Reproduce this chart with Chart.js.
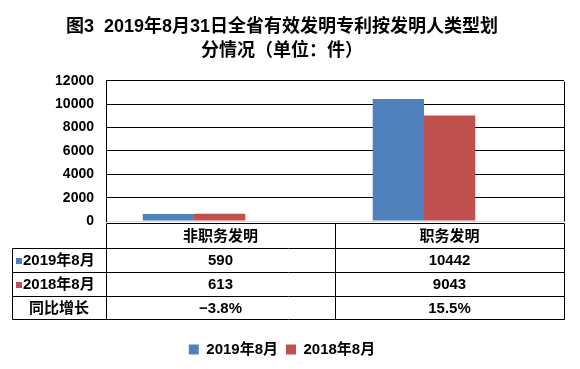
<!DOCTYPE html>
<html>
<head>
<meta charset="utf-8">
<script src="https://cdn.jsdelivr.net/npm/chart.js@4/dist/chart.umd.min.js"></script>
<style>
  html, body { margin: 0; padding: 0; background: #fff; }
  #wrap { width: 580px; height: 369px; }
</style>
</head>
<body>
<div id="wrap"><canvas id="myChart" width="580" height="369"></canvas></div>
<script>
const categories = ['非职务发明', '职务发明'];
const seriesNames = ['2019年8月', '2018年8月'];
const values2019 = [590, 10442];
const values2018 = [613, 9043];
const growthLabels = ['−3.8%', '15.5%'];
const yTicks = [0, 2000, 4000, 6000, 8000, 10000, 12000];

const FONT = "'Liberation Sans', 'Noto Sans CJK SC', sans-serif";
const BLUE = '#4F81BD';
const RED = '#C0504D';

// draws the data table under the plot and the box edges
const dataTable = {
  id: 'dataTable',
  afterDraw(chart) {
    const ctx = chart.ctx;
    const area = chart.chartArea;
    const top = area.bottom + 2;
    const rowH = [25, 24, 24, 23];
    const rows = [top];
    rowH.forEach(h => rows.push(rows[rows.length - 1] + h));
    const labelLeft = 12;
    const colW = (area.right - area.left) / categories.length;
    const mid = area.left + colW;

    ctx.save();
    ctx.strokeStyle = '#000';
    ctx.lineWidth = 1;
    const line = (x1, y1, x2, y2) => {
      ctx.beginPath();
      ctx.moveTo(Math.round(x1) + 0.5, Math.round(y1) + 0.5);
      ctx.lineTo(Math.round(x2) + 0.5, Math.round(y2) + 0.5);
      ctx.stroke();
    };
    // plot right edge
    line(area.right, area.top, area.right, area.bottom);
    // table lines
    line(area.left, rows[0], area.right, rows[0]);
    for (let i = 1; i < rows.length; i++) line(labelLeft, rows[i], area.right, rows[i]);
    line(area.left, rows[0], area.left, rows[4]);
    line(mid, rows[0], mid, rows[4]);
    line(area.right, rows[0], area.right, rows[4]);
    line(labelLeft, rows[1], labelLeft, rows[4]);

    ctx.fillStyle = '#000';
    ctx.font = 'bold 15px ' + FONT;
    ctx.textBaseline = 'middle';
    ctx.textAlign = 'center';
    const cy = i => (rows[i] + rows[i + 1]) / 2 + 1;
    categories.forEach((c, i) => {
      const cx = area.left + colW * (i + 0.5);
      ctx.fillText(c, cx, cy(0));
      ctx.fillText(String(values2019[i]), cx, cy(1));
      ctx.fillText(String(values2018[i]), cx, cy(2));
      ctx.fillText(growthLabels[i], cx, cy(3));
    });
    // row labels
    ctx.fillText('同比增长', (labelLeft + area.left) / 2, cy(3));
    ctx.textAlign = 'left';
    [BLUE, RED].forEach((col, i) => {
      ctx.fillStyle = col;
      ctx.fillRect(16, Math.round(cy(i + 1)) - 3, 6, 6);
      ctx.fillStyle = '#000';
      ctx.fillText(seriesNames[i], 23, cy(i + 1));
    });
    ctx.restore();
  }
};

const toPoints = arr => arr.map((v, i) => ({ x: i, y: v }));

const data = {
  datasets: [
    { label: seriesNames[0], data: toPoints(values2019), backgroundColor: BLUE },
    { label: seriesNames[1], data: toPoints(values2018), backgroundColor: RED }
  ]
};

const config = {
  type: 'bar',
  data: data,
  options: {
    responsive: false,
    animation: false,
    datasets: {
      bar: { categoryPercentage: 0.446, barPercentage: 1 }
    },
    layout: { padding: { left: 0, right: 16, top: 0, bottom: 2 } },
    plugins: {
      title: {
        display: true,
        text: ['图3  2019年8月31日全省有效发明专利按发明人类型划', '分情况（单位：件）'],
        color: '#000',
        font: { family: FONT, size: 18, weight: 'bold', lineHeight: 1.33 },
        padding: { top: 15, bottom: 18 }
      },
      legend: {
        position: 'bottom',
        labels: {
          boxWidth: 10,
          boxHeight: 10,
          color: '#000',
          padding: 8,
          font: { family: FONT, size: 15, weight: 'bold' }
        }
      },
      tooltip: { enabled: false }
    },
    scales: {
      x: {
        type: 'linear',
        offset: false,
        min: -0.383,
        max: 1.609,
        afterBuildTicks(scale) { scale.ticks = categories.map((c, i) => ({ value: i })); },
        grid: { display: false },
        border: { display: false },
        ticks: { display: false },
        afterFit(scale) { scale.height = 113; }
      },
      y: {
        min: 0,
        max: 12000,
        afterBuildTicks(scale) { scale.ticks = yTicks.map(v => ({ value: v })); },
        afterFit(scale) { scale.width = 106; },
        grid: {
          drawTicks: false,
          color: c => (c.tick && c.tick.value === 0 ? '#d9d9d9' : '#000')
        },
        border: { display: true, color: '#000' },
        ticks: {
          padding: 12,
          color: '#000',
          font: { family: FONT, size: 14, weight: 'bold' },
          callback: v => String(v)
        }
      }
    }
  },
  plugins: [dataTable]
};

const ctx = document.getElementById('myChart').getContext('2d');
const myChart = new Chart(ctx, config);
</script>
</body>
</html>
